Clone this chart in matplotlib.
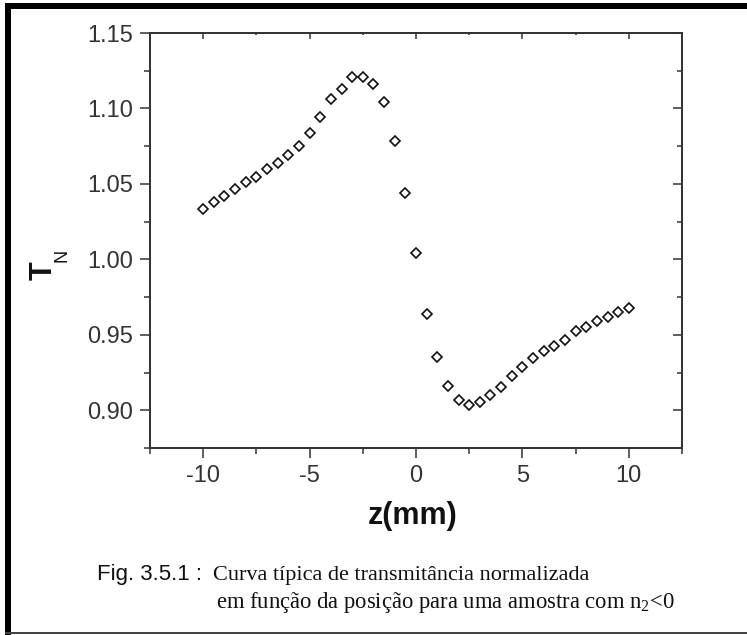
import matplotlib
matplotlib.use("Agg")
import matplotlib.pyplot as plt
from matplotlib.ticker import MultipleLocator
from matplotlib.patches import Rectangle

# ---- data ----
z_mm = [-10, -9.5, -9, -8.5, -8, -7.5, -7, -6.5, -6, -5.5, -5, -4.5, -4, -3.5, -3,
        -2.5, -2, -1.5, -1, -0.5, 0, 0.5, 1, 1.5, 2, 2.5, 3, 3.5, 4, 4.5, 5, 5.5,
        6, 6.5, 7, 7.5, 8, 8.5, 9, 9.5, 10]
t_n = [1.0336, 1.0379, 1.0417, 1.0468, 1.0513, 1.0548, 1.0599, 1.0640, 1.0691,
       1.0753, 1.0839, 1.0944, 1.1065, 1.1129, 1.1210, 1.1210, 1.1161, 1.1043,
       1.0782, 1.0438, 1.0043, 0.9640, 0.9355, 0.9164, 0.9065, 0.9038, 0.9054,
       0.9099, 0.9153, 0.9226, 0.9285, 0.9344, 0.9390, 0.9427, 0.9468, 0.9522,
       0.9551, 0.9591, 0.9618, 0.9648, 0.9680]
x_ticks = [-10, -5, 0, 5, 10]
y_ticks = [0.90, 0.95, 1.00, 1.05, 1.10, 1.15]
y_tick_labels = ["0.90", "0.95", "1.00", "1.05", "1.10", "1.15"]
x_label = "z(mm)"
y_label_main = "T"
y_label_sub = "N"
caption_head = "Fig. 3.5.1 :"
caption_line1 = "Curva típica de transmitância normalizada"
caption_line2 = r"em função da posição para uma amostra com n$_{\mathregular{2}}$<0"

W, H = 747, 635
plt.rcParams['font.family'] = ['Liberation Sans', 'DejaVu Sans']
fig = plt.figure(figsize=(W / 100, H / 100), dpi=100)
fig.patch.set_facecolor("white")

def fx(px):
    return px / W

def fy(py):
    return 1 - py / H

# axes box: left 150, right 682, top 33, bottom 448 (pixels)
ax = fig.add_axes([fx(150), fy(448), fx(682) - fx(150), fy(33) - fy(448)])
ax.plot(z_mm, t_n, linestyle="none", marker="D", markersize=4.6,
        markerfacecolor="white", markeredgecolor="#111111", markeredgewidth=1.2)
ax.set_xlim(-12.5, 12.5)
ax.set_ylim(0.875, 1.15)

axis_col = "#333333"
for s in ax.spines.values():
    s.set_color(axis_col)
    s.set_linewidth(1.1)

ax.set_xticks(x_ticks)
ax.set_xticklabels([str(v) for v in x_ticks])
ax.set_yticks(y_ticks)
ax.set_yticklabels(y_tick_labels)
ax.xaxis.set_minor_locator(MultipleLocator(2.5))
ax.yaxis.set_minor_locator(MultipleLocator(0.025))
ax.tick_params(which="major", direction="out", length=7, width=1.1, color=axis_col,
               labelsize=17, labelcolor="#333333", pad=5.5)
ax.tick_params(which="minor", direction="out", length=4.3, width=1.1, color=axis_col)

# top ticks (inward)
axt = ax.twiny()
axt.set_xlim(ax.get_xlim())
axt.set_xticks(x_ticks)
axt.xaxis.set_minor_locator(MultipleLocator(2.5))
axt.tick_params(which="major", direction="in", length=4.3, width=1.1, color=axis_col,
                labeltop=False)
axt.tick_params(which="minor", direction="in", length=1.6, width=1.1, color=axis_col)
# right ticks (inward)
axr = ax.twinx()
axr.set_ylim(ax.get_ylim())
axr.set_yticks(y_ticks)
axr.yaxis.set_minor_locator(MultipleLocator(0.025))
axr.tick_params(which="major", direction="in", length=6.5, width=1.1, color=axis_col,
                labelright=False)
axr.tick_params(which="minor", direction="in", length=3.6, width=1.1, color=axis_col)
for a in (axt, axr):
    for s in a.spines.values():
        s.set_color(axis_col)
        s.set_linewidth(1.1)

# axis labels
fig.text(fx(413), fy(516), x_label, ha="center", va="center", fontsize=22,
         fontweight="bold", color="#111111")
fig.text(fx(44), fy(271), y_label_main, ha="center", va="center", fontsize=22,
         fontweight="bold", rotation=90, color="#111111")
fig.text(fx(62.5), fy(255), y_label_sub, ha="center", va="center", fontsize=13,
         rotation=90, color="#111111")

# caption
fig.text(fx(97), fy(580), caption_head, ha="left", va="baseline", fontsize=16,
         color="#111111")
fig.text(fx(213), fy(580), caption_line1, ha="left", va="baseline", fontsize=16,
         family=["Liberation Serif", "DejaVu Serif"], color="#111111")
fig.text(fx(216), fy(608), caption_line2, ha="left", va="baseline", fontsize=16.3,
         family=["Liberation Serif", "DejaVu Serif"], color="#111111")

# page frame
fig.add_artist(Rectangle((fx(5), 0), fx(6), 1 - 3 / H, transform=fig.transFigure,
                         facecolor="black", edgecolor="none"))
fig.add_artist(Rectangle((fx(5), fy(9)), 1 - fx(5), 6 / H, transform=fig.transFigure,
                         facecolor="black", edgecolor="none"))
fig.add_artist(Rectangle((fx(5), fy(634)), 1 - fx(5), 2 / H, transform=fig.transFigure,
                         facecolor="#444444", edgecolor="none"))

fig.savefig("out.png", dpi=100, facecolor="white")
